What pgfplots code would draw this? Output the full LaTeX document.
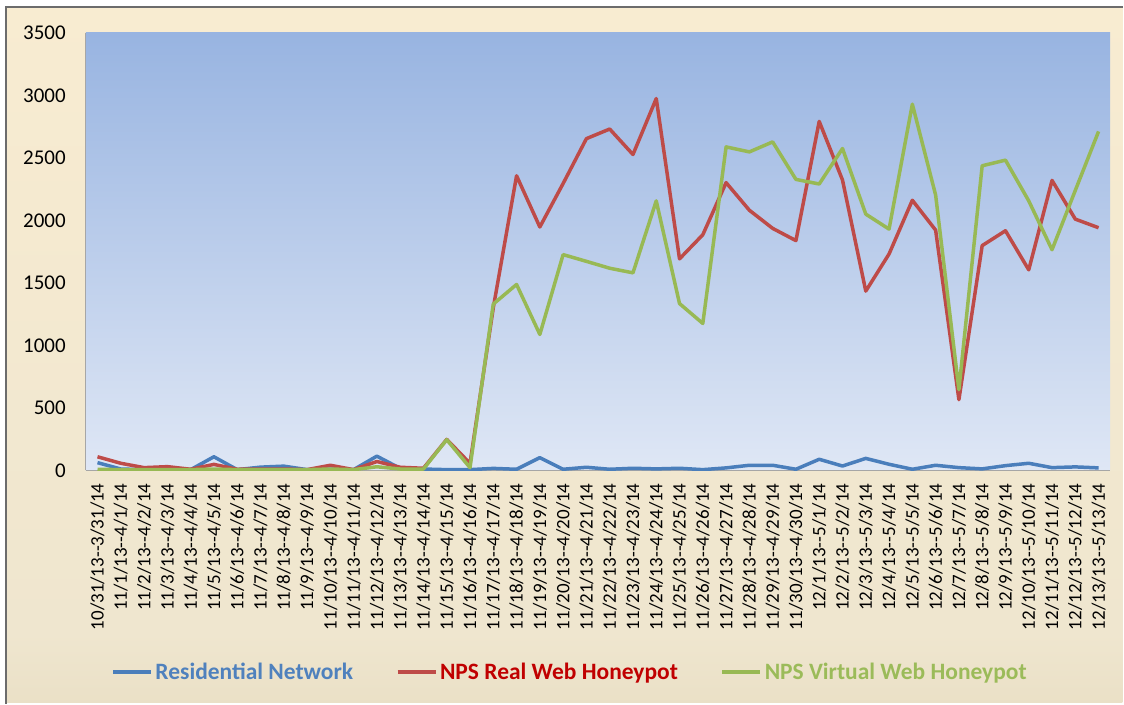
\documentclass[border=0pt]{standalone}
\usepackage{fontspec}
\setmainfont{Carlito}
\usepackage{pgfplots}
\usepackage{pgfplotstable}
\pgfplotsset{compat=1.18}
\definecolor{bgtop}{HTML}{FDEFD2}
\definecolor{bgmid}{HTML}{EFE6CF}
\definecolor{bglow}{HTML}{DCCFAD}
\definecolor{bgbot}{HTML}{D4C5A0}
\definecolor{plottop}{HTML}{98B4E1}
\definecolor{plotbot}{HTML}{DFE7F5}
\definecolor{axisgray}{HTML}{A6A6A6}
\definecolor{serblue}{HTML}{4A7EBB}
\definecolor{serred}{HTML}{BE4B48}
\definecolor{sergreen}{HTML}{98B954}
\definecolor{txtblue}{HTML}{4F81BD}
\definecolor{txtred}{HTML}{C00000}
\definecolor{txtgreen}{HTML}{9BBB59}
\pgfdeclareverticalshading{bgshade}{100bp}{color(0bp)=(bgbot); color(10bp)=(bglow); color(30bp)=(bgmid); color(100bp)=(bgtop)}

\pgfplotstableread{
x res real virt
0 61 108 8
1 10 56 5
2 5 21 5
3 5 29 5
4 5 8 5
5 108 47 10
6 5 8 5
7 25 10 5
8 33 10 5
9 5 5 5
10 10 40 10
11 5 5 5
12 113 70 28
13 15 24 10
14 10 16 10
15 5 247 245
16 5 55 21
17 15 1300 1330
18 8 2357 1487
19 101 1947 1087
20 8 2295 1726
21 24 2654 1672
22 8 2731 1617
23 16 2527 1580
24 11 2975 2156
25 16 1692 1334
26 5 1885 1175
27 19 2302 2588
28 40 2081 2548
29 40 1936 2628
30 8 1838 2328
31 88 2792 2291
32 34 2323 2575
33 95 1434 2050
34 48 1731 1930
35 8 2161 2930
36 40 1922 2203
37 21 565 645
38 11 1798 2437
39 37 1917 2482
40 56 1604 2156
41 21 2320 1765
42 27 2010 2240
43 19 1941 2712
}\datatable

\begin{document}
\begin{tikzpicture}
% axis lower-left corner is the origin; image spans (-86pt,-233pt) to (1038pt,471pt)
\fill[white] (-86pt,-233pt) rectangle (1038pt,471pt);
\shade[shading=bgshade] (-80pt,-233pt) rectangle (1038pt,464pt);
\draw[gray!85!black, line width=1.5pt] (-80pt,-234pt) -- (-80pt,464pt) -- (1039pt,464pt);
\begin{axis}[
  scale only axis, width=1026pt, height=438pt,
  xmin=-0.5, xmax=43.5, ymin=0, ymax=3500,
  ytick={0,500,...,3500},
  xtick={0,...,43},
  xticklabels={10/31/13-{}-3/31/14, 11/1/13-{}-4/1/14, 11/2/13-{}-4/2/14, 11/3/13-{}-4/3/14, 11/4/13-{}-4/4/14, 11/5/13-{}-4/5/14, 11/6/13-{}-4/6/14, 11/7/13-{}-4/7/14, 11/8/13-{}-4/8/14, 11/9/13-{}-4/9/14, 11/10/13-{}-4/10/14, 11/11/13-{}-4/11/14, 11/12/13-{}-4/12/14, 11/13/13-{}-4/13/14, 11/14/13-{}-4/14/14, 11/15/13-{}-4/15/14, 11/16/13-{}-4/16/14, 11/17/13-{}-4/17/14, 11/18/13-{}-4/18/14, 11/19/13-{}-4/19/14, 11/20/13-{}-4/20/14, 11/21/13-{}-4/21/14, 11/22/13-{}-4/22/14, 11/23/13-{}-4/23/14, 11/24/13-{}-4/24/14, 11/25/13-{}-4/25/14, 11/26/13-{}-4/26/14, 11/27/13-{}-4/27/14, 11/28/13-{}-4/28/14, 11/29/13-{}-4/29/14, 11/30/13-{}-4/30/14, 12/1/13-{}-5/1/14, 12/2/13-{}-5/2/14, 12/3/13-{}-5/3/14, 12/4/13-{}-5/4/14, 12/5/13-{}-5/5/14, 12/6/13-{}-5/6/14, 12/7/13-{}-5/7/14, 12/8/13-{}-5/8/14, 12/9/13-{}-5/9/14, 12/10/13-{}-5/10/14, 12/11/13-{}-5/11/14, 12/12/13-{}-5/12/14, 12/13/13-{}-5/13/14},
  axis x line*=bottom, axis y line*=left,
  axis line style={draw=axisgray, line width=1.2pt, -},
  major tick length=0pt, tick style={draw=none},
  x tick label style={rotate=90, anchor=east, inner xsep=13pt, inner ysep=0pt, font=\fontsize{19}{19}\selectfont},
  y tick label style={inner xsep=0pt, xshift=-20pt, font=\fontsize{21}{21}\selectfont},
  /pgf/number format/assume math mode=true,
  /pgf/number format/1000 sep={},
  axis background/.style={shade, top color=plottop, bottom color=plotbot},
  legend style={at={(0.4727,-0.461)}, anchor=center, draw=none, fill=none,
    font=\fontsize{23.5}{23.5}\selectfont\bfseries, nodes={inner sep=2.5pt},
    /tikz/every even column/.append style={column sep=40pt}},
  legend columns=3,
  legend image code/.code={\draw[#1, line width=4pt] (0pt,0pt) -- (38pt,0pt);},
  every axis plot/.append style={line width=3.5pt, line join=round, mark=none},
]
\addplot[serblue] table[x=x, y=res] {\datatable};
\addlegendentry{\textcolor{txtblue}{Residential Network}}
\addplot[serred] table[x=x, y=real] {\datatable};
\addlegendentry{\textcolor{txtred}{NPS Real Web Honeypot}}
\addplot[sergreen] table[x=x, y=virt] {\datatable};
\addlegendentry{\textcolor{txtgreen}{NPS Virtual Web Honeypot}}
\end{axis}
\end{tikzpicture}
\end{document}
